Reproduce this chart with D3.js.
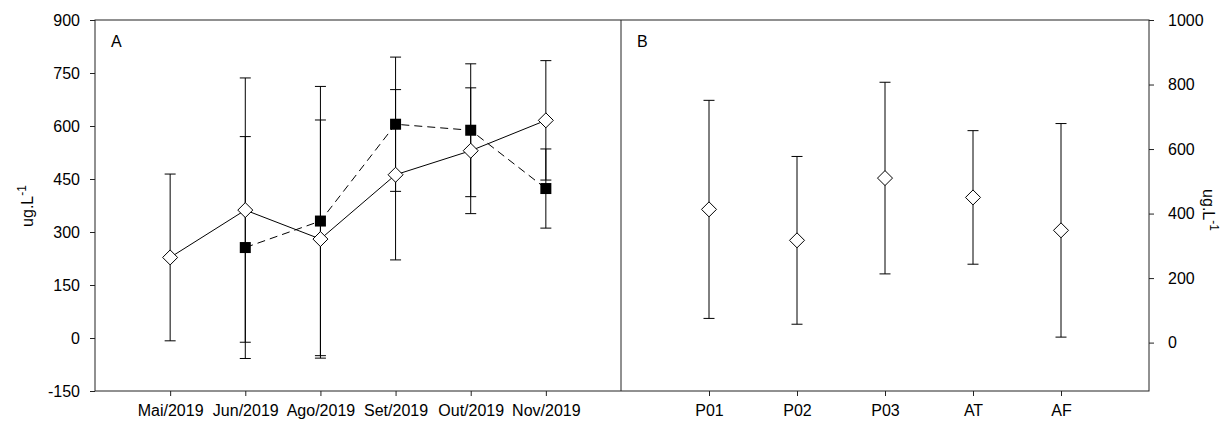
<!DOCTYPE html>
<html>
<head>
<meta charset="utf-8">
<script src="https://cdn.jsdelivr.net/npm/d3@7"></script>
<style>
	body { margin: 0; background: #fff; }
	svg text { font-family: "Liberation Sans", Arial, sans-serif; fill: #000; }
</style>
</head>
<body>
<svg id="chart" width="1230" height="421"></svg>
<script>
// panel A: months
var months = ["Mai/2019", "Jun/2019", "Ago/2019", "Set/2019", "Out/2019", "Nov/2019"];
// open diamonds, solid line
var diamondMean = [228, 362, 280, 462, 530, 616];
var diamondErr  = [236, 374, 337, 241, 178, 169];
// filled squares, dashed line (no value for Mai)
var squareMean = [null, 256, 331, 605, 588, 423];
var squareErr  = [null, 314, 381, 190, 188, 112];

// panel B: sites
var sites = ["P01", "P02", "P03", "AT", "AF"];
var siteMean = [413, 317, 510, 450, 348];
var siteErr  = [338, 260, 297, 207, 331];

var leftTicks = [-150, 0, 150, 300, 450, 600, 750, 900];
var rightTicks = [0, 200, 400, 600, 800, 1000];

var svg = d3.select("#chart");
// plot frame edges
var pTop = 20, pBottom = 391, pLeft = 95, pMid = 621, pRight = 1149;

var xA = d3.scaleLinear().domain([0, months.length + 1]).range([pLeft, pMid]);
var yA = d3.scaleLinear().domain([-150, 900]).range([pBottom, pTop]);
var xB = d3.scaleLinear().domain([0, sites.length + 1]).range([pMid, pRight]);
var yB = d3.scaleLinear().domain([-150, 1000]).range([pBottom, pTop]);

// axes
function styleAxis(g) {
	g.select(".domain").remove();
	g.selectAll("line").attr("stroke", "#222");
	g.selectAll("text").style("font-size", "16px").attr("fill", "#000");
}

// plain hyphen for negatives, like the original
var plain = d => String(d);

svg.append("g")
	.attr("transform", `translate(${pLeft},0)`)
	.call(d3.axisLeft(yA).tickValues(leftTicks).tickSize(5).tickPadding(10).tickFormat(plain))
	.call(styleAxis);

svg.append("g")
	.attr("transform", `translate(${pRight},0)`)
	.call(d3.axisRight(yB).tickValues(rightTicks).tickSize(5).tickPadding(14).tickFormat(plain))
	.call(styleAxis);

svg.append("g")
	.attr("transform", `translate(0,${pBottom})`)
	.call(d3.axisBottom(xA).tickValues(d3.range(1, months.length + 1)).tickSize(5).tickPadding(9)
		.tickFormat(i => months[i - 1]))
	.call(styleAxis);

svg.append("g")
	.attr("transform", `translate(0,${pBottom})`)
	.call(d3.axisBottom(xB).tickValues(d3.range(1, sites.length + 1)).tickSize(5).tickPadding(9)
		.tickFormat(i => sites[i - 1]))
	.call(styleAxis);

// frame
svg.append("rect")
	.attr("x", pLeft).attr("y", pTop)
	.attr("width", pRight - pLeft).attr("height", pBottom - pTop)
	.attr("fill", "none").attr("stroke", "#222").attr("stroke-width", 1);
svg.append("line")
	.attr("x1", pMid).attr("x2", pMid).attr("y1", pTop).attr("y2", pBottom)
	.attr("stroke", "#222");

// panel letters
svg.append("text").attr("x", 111).attr("y", 47).style("font-size", "16px").text("A");
svg.append("text").attr("x", 637).attr("y", 47).style("font-size", "16px").text("B");

// y labels
var yl = svg.append("text")
	.attr("transform", "translate(33,206) rotate(-90)")
	.attr("text-anchor", "middle")
	.style("font-size", "16px");
yl.append("tspan").text("ug.L");
yl.append("tspan").attr("dy", -7).style("font-size", "12px").text("-1");

var yr = svg.append("text")
	.attr("transform", "translate(1203,210) rotate(90)")
	.attr("text-anchor", "middle")
	.style("font-size", "16px");
yr.append("tspan").text("ug.L");
yr.append("tspan").attr("dy", -7).style("font-size", "12px").text("-1");

// error bars helper
function errorBars(g, means, errs, xScale, yScale) {
	var pts = means.map((m, i) => ({i: i, m: m, e: errs[i]})).filter(d => d.m !== null);
	var eb = g.append("g").selectAll("g").data(pts).enter().append("g")
		.attr("stroke", "#000").attr("stroke-width", 1);
	eb.append("line")
		.attr("x1", d => xScale(d.i + 1)).attr("x2", d => xScale(d.i + 1))
		.attr("y1", d => yScale(d.m - d.e)).attr("y2", d => yScale(d.m + d.e));
	eb.append("line")
		.attr("x1", d => xScale(d.i + 1) - 5.5).attr("x2", d => xScale(d.i + 1) + 5.5)
		.attr("y1", d => yScale(d.m + d.e)).attr("y2", d => yScale(d.m + d.e));
	eb.append("line")
		.attr("x1", d => xScale(d.i + 1) - 5.5).attr("x2", d => xScale(d.i + 1) + 5.5)
		.attr("y1", d => yScale(d.m - d.e)).attr("y2", d => yScale(d.m - d.e));
}

var gA = svg.append("g");
errorBars(gA, diamondMean, diamondErr, xA, yA);
errorBars(gA, squareMean, squareErr, xA, yA);

var lineA = d3.line()
	.defined(d => d !== null)
	.x((d, i) => xA(i + 1))
	.y(d => yA(d));

gA.append("path")
	.attr("d", lineA(squareMean))
	.attr("fill", "none").attr("stroke", "#000").attr("stroke-width", 1)
	.attr("stroke-dasharray", "8,5");
gA.append("path")
	.attr("d", lineA(diamondMean))
	.attr("fill", "none").attr("stroke", "#000").attr("stroke-width", 1);

var diamond = "M0,-7.5L7.5,0L0,7.5L-7.5,0Z";

gA.selectAll(".sq")
	.data(squareMean.map((m, i) => ({i: i, m: m})).filter(d => d.m !== null))
	.enter().append("rect")
		.attr("x", d => xA(d.i + 1) - 5.5).attr("y", d => yA(d.m) - 5.5)
		.attr("width", 11).attr("height", 11)
		.attr("fill", "#000");

gA.selectAll(".dm")
	.data(diamondMean)
	.enter().append("path")
		.attr("d", diamond)
		.attr("transform", (d, i) => `translate(${xA(i + 1)},${yA(d)})`)
		.attr("fill", "#fff").attr("stroke", "#000").attr("stroke-width", 1);

// panel B
var gB = svg.append("g");
errorBars(gB, siteMean, siteErr, xB, yB);
gB.selectAll(".dm")
	.data(siteMean)
	.enter().append("path")
		.attr("d", diamond)
		.attr("transform", (d, i) => `translate(${xB(i + 1)},${yB(d)})`)
		.attr("fill", "#fff").attr("stroke", "#000").attr("stroke-width", 1);
</script>
</body>
</html>
